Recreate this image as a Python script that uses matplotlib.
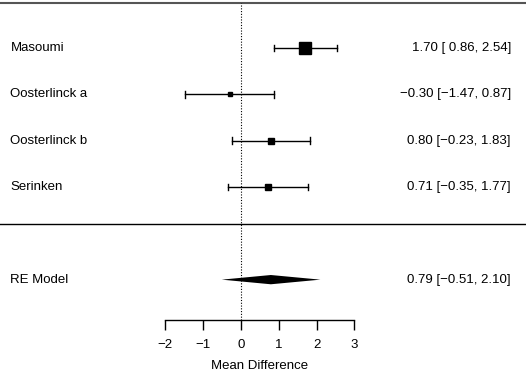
import numpy as np
import matplotlib.pyplot as plt

plt.rcParams['font.family'] = ['Liberation Sans', 'DejaVu Sans']

studies = ["Masoumi", "Oosterlinck a", "Oosterlinck b", "Serinken"]
est = [1.70, -0.30, 0.80, 0.71]
lower = [0.86, -1.47, -0.23, -0.35]
upper = [2.54, 0.87, 1.83, 1.77]
msize = [8, 3.5, 5, 5]
re_label = "RE Model"
re_est, re_lo, re_hi = 0.79, -0.51, 2.10
ticks = [-2, -1, 0, 1, 2, 3]


def fmt(e, lo, hi):
    # R-style padding: positive lower bound gets a leading space
    lo_s = f"{lo:5.2f}"
    return f"{e:.2f} [{lo_s}, {hi:.2f}]".replace('-', '\u2212')


fig = plt.figure(figsize=(5.26, 3.73), dpi=100)
ax = fig.add_axes([0, 0, 1, 1])
ax.set_xlim(-6.376, 7.54)
ax.set_ylim(-3.015, 5.036)

rows = np.arange(len(studies), 0, -1)

# study CIs and squares
for r, e, lo, hi, ms in zip(rows, est, lower, upper, msize):
    ax.plot([lo, hi], [r, r], color='black', lw=1)
    ax.plot([lo, lo], [r - 0.07, r + 0.07], color='black', lw=1)
    ax.plot([hi, hi], [r - 0.07, r + 0.07], color='black', lw=1)
    ax.plot(e, r, marker='s', ms=ms, color='black', mec='black')

fs = 9.5
for r, name, e, lo, hi in zip(rows, studies, est, lower, upper):
    ax.text(-6.1, r, name, ha='left', va='center', fontsize=fs)
    ax.text(7.14, r, fmt(e, lo, hi), ha='right', va='center', fontsize=fs)

# summary diamond
re_row = -1
ax.fill([re_lo, re_est, re_hi, re_est], [re_row, re_row + 0.1, re_row, re_row - 0.1],
        color='black', lw=0)
ax.text(-6.1, re_row, re_label, ha='left', va='center', fontsize=fs)
ax.text(7.14, re_row, fmt(re_est, re_lo, re_hi), ha='right', va='center', fontsize=fs)

# reference lines
ax.axhline(4.98, color='#555555', lw=1.5)
ax.axhline(0.2, color='black', lw=1)
ax.plot([0, 0], [-1.87, 4.98], color='black', lw=0.8, ls=(0, (1, 1.5)))

# x axis
for s in ['top', 'right', 'left']:
    ax.spines[s].set_visible(False)
ax.spines['bottom'].set_position(('data', -1.87))
ax.spines['bottom'].set_bounds(-2, 3)
ax.spines['bottom'].set_linewidth(1)
ax.set_xticks(ticks)
ax.set_xticklabels([str(t).replace('-', '\u2212') for t in ticks], fontsize=fs)
ax.tick_params(axis='x', direction='out', length=7, width=1, pad=7)
ax.set_yticks([])
ax.text(0.5, -2.86, "Mean Difference", ha='center', va='center', fontsize=fs)

fig.savefig("out.png", dpi=100)
